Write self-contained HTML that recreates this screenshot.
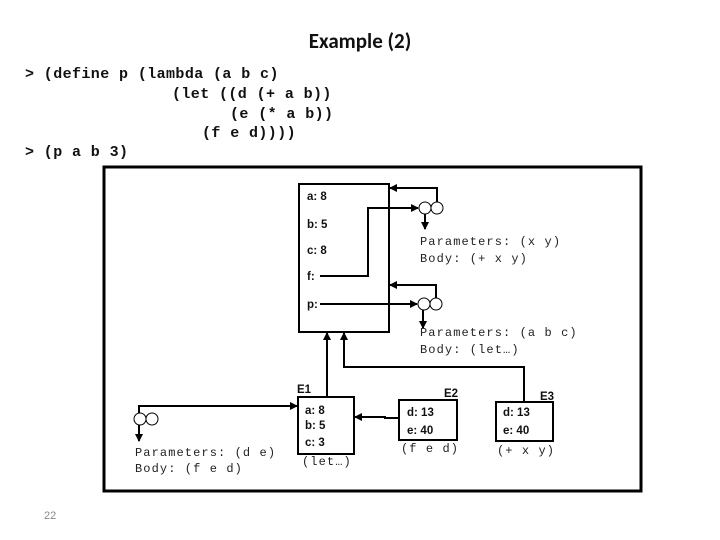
<!DOCTYPE html>
<html><head><meta charset="utf-8"><style>
html,body{margin:0;padding:0;background:#fff;width:720px;height:540px;overflow:hidden}
svg{display:block}
.m{font-family:"Liberation Mono",monospace;font-size:12px;letter-spacing:1.1px;fill:#222}
.b{font-family:"Liberation Sans",sans-serif;font-size:11.5px;font-weight:bold;fill:#111}
.c{font-family:"Liberation Mono",monospace;font-size:15px;font-weight:bold;letter-spacing:0.4px;fill:#111}
</style></head><body>
<svg width="720" height="540" viewBox="0 0 720 540" xmlns="http://www.w3.org/2000/svg">
<defs><marker id="a" markerWidth="8" markerHeight="8" refX="7" refY="4" orient="auto" markerUnits="userSpaceOnUse"><path d="M0,0 L8,4 L0,8 z" fill="#000"/></marker></defs>
<text x="360" y="48" text-anchor="middle" font-family="Carlito,'Liberation Sans',sans-serif" font-size="21" font-weight="bold" fill="#111">Example (2)</text>
<text class="c" x="25" y="78">&gt; (define p (lambda (a b c)</text>
<text class="c" x="172" y="98">(let ((d (+ a b))</text>
<text class="c" x="230" y="118">(e (* a b))</text>
<text class="c" x="202" y="137">(f e d))))</text>
<text class="c" x="25" y="156">&gt; (p a b 3)</text>
<rect x="104" y="167" width="537" height="324" fill="none" stroke="#000" stroke-width="3"/>
<g stroke="#000" stroke-width="2" fill="none">
<rect x="299" y="184" width="90" height="148"/>
<rect x="298" y="397" width="56" height="57"/>
<rect x="399" y="400" width="58" height="40"/>
<rect x="496" y="402" width="57" height="39"/>
</g>
<g stroke="#000" stroke-width="1" fill="#fff">
<circle cx="425" cy="208" r="6"/><circle cx="437" cy="208" r="6"/>
<circle cx="424" cy="304" r="6"/><circle cx="436" cy="304" r="6"/>
<circle cx="140" cy="419" r="6"/><circle cx="152" cy="419" r="6"/>
</g>
<g stroke="#000" stroke-width="2" fill="none">
<polyline points="320,276 368,276 368,208 418,208" marker-end="url(#a)"/>
<polyline points="437,202 437,188 390,188" marker-end="url(#a)"/>
<line x1="425" y1="214" x2="425" y2="229" marker-end="url(#a)"/>
<line x1="320" y1="304" x2="417" y2="304" marker-end="url(#a)"/>
<polyline points="436,298 436,285 390,285" marker-end="url(#a)"/>
<line x1="423" y1="310" x2="423" y2="328" marker-end="url(#a)"/>
<line x1="327" y1="397" x2="327" y2="333" marker-end="url(#a)"/>
<polyline points="524,402 524,367 344,367 344,333" marker-end="url(#a)"/>
<polyline points="399,418 385,418 385,417 355,417" marker-end="url(#a)"/>
<polyline points="139,413 139,406 297,406" marker-end="url(#a)"/>
<line x1="139" y1="425" x2="139" y2="441" marker-end="url(#a)"/>
</g>
<text class="b" x="307" y="200">a: 8</text>
<text class="b" x="307" y="228">b: 5</text>
<text class="b" x="307" y="254">c: 8</text>
<text class="b" x="307" y="280">f:</text>
<text class="b" x="307" y="308">p:</text>
<text class="m" x="420" y="245">Parameters: (x y)</text>
<text class="m" x="420" y="262">Body: (+ x y)</text>
<text class="m" x="420" y="336">Parameters: (a b c)</text>
<text class="m" x="420" y="353">Body: (let…)</text>
<text class="m" x="135" y="456">Parameters: (d e)</text>
<text class="m" x="135" y="472">Body: (f e d)</text>
<text class="b" x="297" y="393">E1</text>
<text class="b" x="305" y="414">a: 8</text>
<text class="b" x="305" y="429">b: 5</text>
<text class="b" x="305" y="446">c: 3</text>
<text class="m" x="302" y="465">(let…)</text>
<text class="b" x="444" y="397">E2</text>
<text class="b" x="407" y="416">d: 13</text>
<text class="b" x="407" y="434">e: 40</text>
<text class="m" x="401" y="452">(f e d)</text>
<text class="b" x="540" y="400">E3</text>
<text class="b" x="503" y="416">d: 13</text>
<text class="b" x="503" y="434">e: 40</text>
<text class="m" x="497" y="454">(+ x y)</text>
<text x="44" y="519" font-family="Liberation Sans,sans-serif" font-size="11" fill="#888">22</text>
</svg>
</body></html>
